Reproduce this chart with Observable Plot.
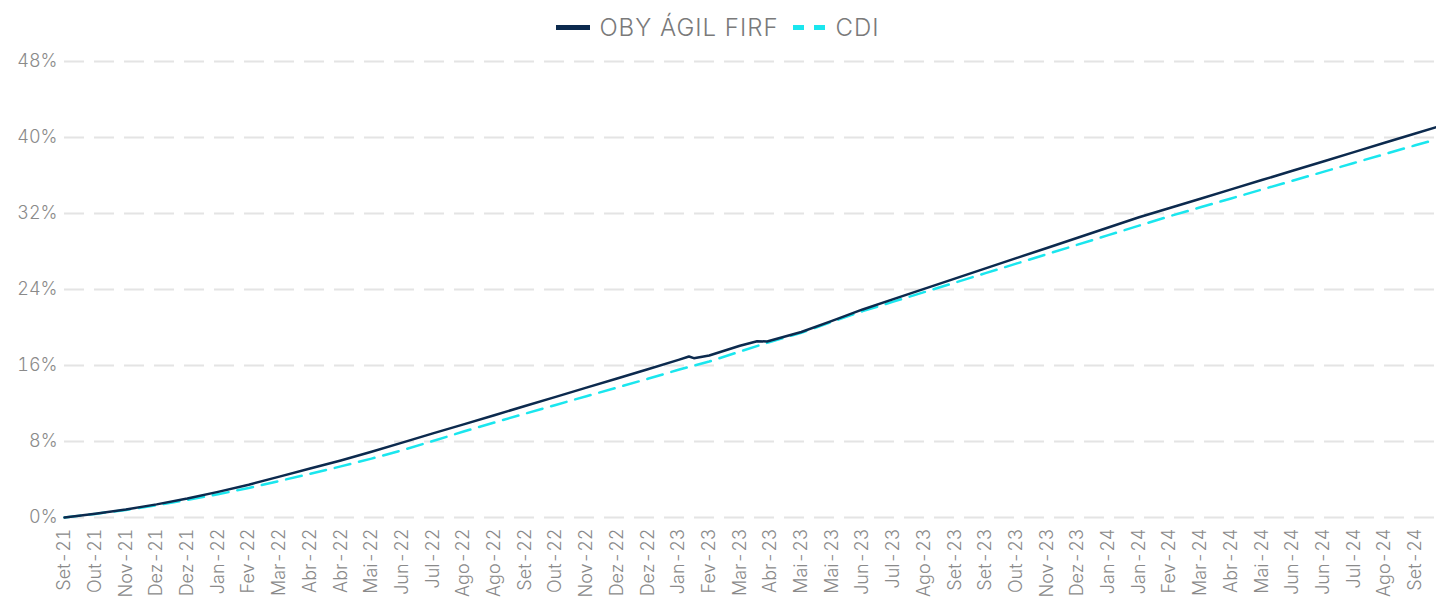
<!DOCTYPE html>
<html>
<head>
<meta charset="utf-8">
<script src="https://cdn.jsdelivr.net/npm/d3@7"></script>
<script src="https://cdn.jsdelivr.net/npm/@observablehq/plot@0.6"></script>
<style>
  html, body { margin: 0; padding: 0; background: #fff; }
  #legend {
    height: 48px; box-sizing: border-box; padding-top: 6px;
    display: flex; align-items: center; justify-content: center;
    font-family: Inter, "Noto Sans", sans-serif; font-weight: 300;
    font-size: 24px; letter-spacing: 1px; color: #7a7a7a;
  }
  .sw { display: inline-block; height: 5px; }
  .item { display: flex; align-items: center; }
</style>
</head>
<body>
<div id="legend"></div>
<div id="chart"></div>
<script>
const tickLabels = ["Set-21","Out-21","Nov-21","Dez-21","Dez-21","Jan-22","Fev-22","Mar-22","Abr-22","Abr-22","Mai-22","Jun-22","Jul-22","Ago-22","Ago-22","Set-22","Out-22","Nov-22","Dez-22","Dez-22","Jan-23","Fev-23","Mar-23","Abr-23","Mai-23","Mai-23","Jun-23","Jul-23","Ago-23","Set-23","Set-23","Out-23","Nov-23","Dez-23","Jan-24","Jan-24","Fev-24","Mar-24","Abr-24","Mai-24","Jun-24","Jun-24","Jul-24","Ago-24","Set-24"];

const seriesNames = ["OBY ÁGIL FIRF", "CDI"];
const seriesColors = ["#0c2a4e", "#1ae6ee"];

const obyIndex = [0,1,2,3,4,5,6,7,8,9,10,11,12,13,14,15,16,17,18,19,20,20.34,20.5,21,22,22.56,22.89,23,24,25,26,27,28,29,30,31,32,33,34,35,36,37,38,39,40,41,42,43,44,44.69];
const obyValues = [0,0.4,0.85,1.38,2.0,2.7,3.45,4.3,5.15,6.0,6.92,7.88,8.85,9.8,10.76,11.73,12.7,13.67,14.63,15.6,16.59,16.95,16.77,17.05,18.08,18.56,18.52,18.63,19.53,20.7,21.9,22.99,24.06,25.14,26.22,27.3,28.37,29.45,30.53,31.6,32.58,33.56,34.54,35.52,36.5,37.48,38.46,39.44,40.42,41.1];

const cdiIndex = [0,1,2,3,4,5,6,7,8,9,10,11,12,13,14,15,16,17,18,19,20,21,22,23,24,25,26,27,28,29,30,31,32,33,34,35,36,37,38,39,40,41,42,43,44,44.69];
const cdiValues = [0,0.38,0.8,1.28,1.85,2.45,3.1,3.85,4.6,5.38,6.2,7.08,8.05,9.05,10.0,10.93,11.85,12.77,13.68,14.6,15.55,16.42,17.47,18.5,19.45,20.6,21.72,22.72,23.72,24.72,25.72,26.72,27.72,28.72,29.72,30.72,31.72,32.65,33.58,34.52,35.45,36.38,37.32,38.25,39.18,39.8];

const yTicks = [0, 8, 16, 24, 32, 40, 48];

const oby = obyIndex.map((x, i) => ({x, y: obyValues[i]}));
const cdi = cdiIndex.map((x, i) => ({x, y: cdiValues[i]}));

// legend
const legend = document.getElementById("legend");
legend.innerHTML =
  `<span class="item"><span class="sw" style="width:34px;background:${seriesColors[0]};margin-right:9px"></span>${seriesNames[0]}</span>` +
  `<span class="item" style="margin-left:14px"><span class="sw" style="width:11px;background:${seriesColors[1]}"></span><span class="sw" style="width:11px;background:${seriesColors[1]};margin-left:10px;margin-right:11px"></span>${seriesNames[1]}</span>`;

const chart = Plot.plot({
  width: 1436,
  height: 566,
  marginTop: 13,
  marginBottom: 97,
  marginLeft: 64,
  marginRight: 0,
  style: {fontFamily: "Inter, 'Noto Sans', sans-serif", fontSize: "18px", color: "#888", background: "#fff", overflow: "visible"},
  x: {domain: [0, obyIndex[obyIndex.length - 1]]},
  y: {domain: [0, 48]},
  marks: [
    Plot.gridY(yTicks, {stroke: "#e4e4e4", strokeOpacity: 1, strokeWidth: 2, strokeDasharray: "20,10"}),
    Plot.axisY(yTicks, {tickSize: 0, tickPadding: 7, tickFormat: d => d + "%", fill: "#8a8a8a", fontWeight: 300, label: null}),
    Plot.axisX(tickLabels.map((_, i) => i), {tickSize: 0, tickPadding: 11, tickRotate: -90, tickFormat: i => tickLabels[i], fill: "#8a8a8a", fontWeight: 300, label: null}),
    Plot.line(cdi, {x: "x", y: "y", stroke: seriesColors[1], strokeWidth: 2.5, strokeDasharray: "16,9"}),
    Plot.line(oby, {x: "x", y: "y", stroke: seriesColors[0], strokeWidth: 2.5})
  ]
});
document.getElementById("chart").appendChild(chart);
</script>
</body>
</html>
